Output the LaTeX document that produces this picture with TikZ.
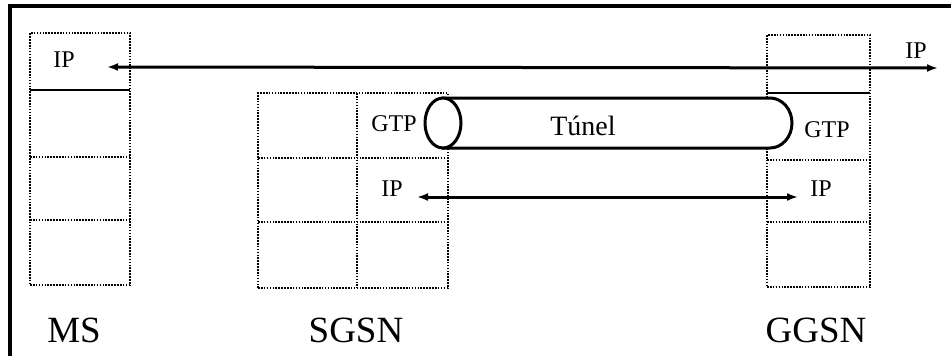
\documentclass[tikz,border=0pt]{standalone}
\usepackage{fontspec}
\setmainfont{Liberation Serif}
\usepackage{tikz}
\usetikzlibrary{arrows.meta, positioning}

\begin{document}
\begin{tikzpicture}[x=1pt, y=-1pt,
		punteado/.style={draw, line width=2.6pt, dash pattern=on 1.6pt off 1.3pt},
		caja/.style={punteado, inner sep=0pt},
		tubo/.style={line width=3pt},
		flecha/.style={line width=3pt, {Latex[length=11pt,width=8pt]}-{Latex[length=11pt,width=8pt]}},
		etiq/.style={font=\fontsize{24}{28}\selectfont, inner sep=0pt, anchor=base},
		nombre/.style={font=\fontsize{37}{42}\selectfont, inner sep=0pt, anchor=base}]
	\useasboundingbox (0,0) rectangle (951,356);
	% marco
	\draw[line width=3.5pt] (10,356) -- (10,6) -- (951,6);
	% pilas de protocolos
	\node[caja, minimum width=100pt, minimum height=252pt] (ms) at (80,159) {};
	\node[caja, minimum width=190pt, minimum height=195pt] (sgsn) at (353,190.5) {};
	\node[caja, minimum width=103pt, minimum height=252pt] (ggsn) at (818.5,161) {};
	\draw[line width=2.6pt] (30,90) -- (130,90);
	\foreach \y in {157, 220}
	\draw[punteado] (30,\y) -- (130,\y);
	\foreach \y in {158, 222}
	\draw[punteado] (258,\y) -- (448,\y);
	\draw[punteado] (357,93) -- (357,288);
	\draw[line width=2.6pt] (767,93) -- (870,93);
	\foreach \y in {160, 222}
	\draw[punteado] (767,\y) -- (870,\y);
	% tunel
	\draw[tubo, fill=white] (443,98) -- (770,98)
	arc[start angle=-90, end angle=90, x radius=22, y radius=25] -- (443,148) -- cycle;
	\draw[tubo, fill=white] (443,123) ellipse[x radius=18, y radius=25];
	\node[etiq, font=\fontsize{28}{32}\selectfont] (tunel) at (583,135) {Túnel};
	% textos
	\node[etiq] (ip-ms) at (64,67) {IP};
	\node[etiq] (ip-ext) at (916,58) {IP};
	\node[etiq] (gtp-sgsn) at (394,131) {GTP};
	\node[etiq] (ip-sgsn) at (392,196) {IP};
	\node[etiq] (gtp-ggsn) at (827,137) {GTP};
	\node[etiq] (ip-ggsn) at (821,196) {IP};
	\node[nombre] (n-ms) at (74,342) {MS};
	\node[nombre] (n-sgsn) at (356,342) {SGSN};
	\node[nombre] (n-ggsn) at (816,342) {GGSN};
	% flechas IP
	\coordinate (a1) at (107,67);
	\coordinate (a2) at (938,68);
	\coordinate (b1) at (417,197);
	\coordinate (b2) at (798,197);
	\draw[flecha] (a1) -- (a2);
	\draw[flecha] (b1) -- (b2);
\end{tikzpicture}
\end{document}
